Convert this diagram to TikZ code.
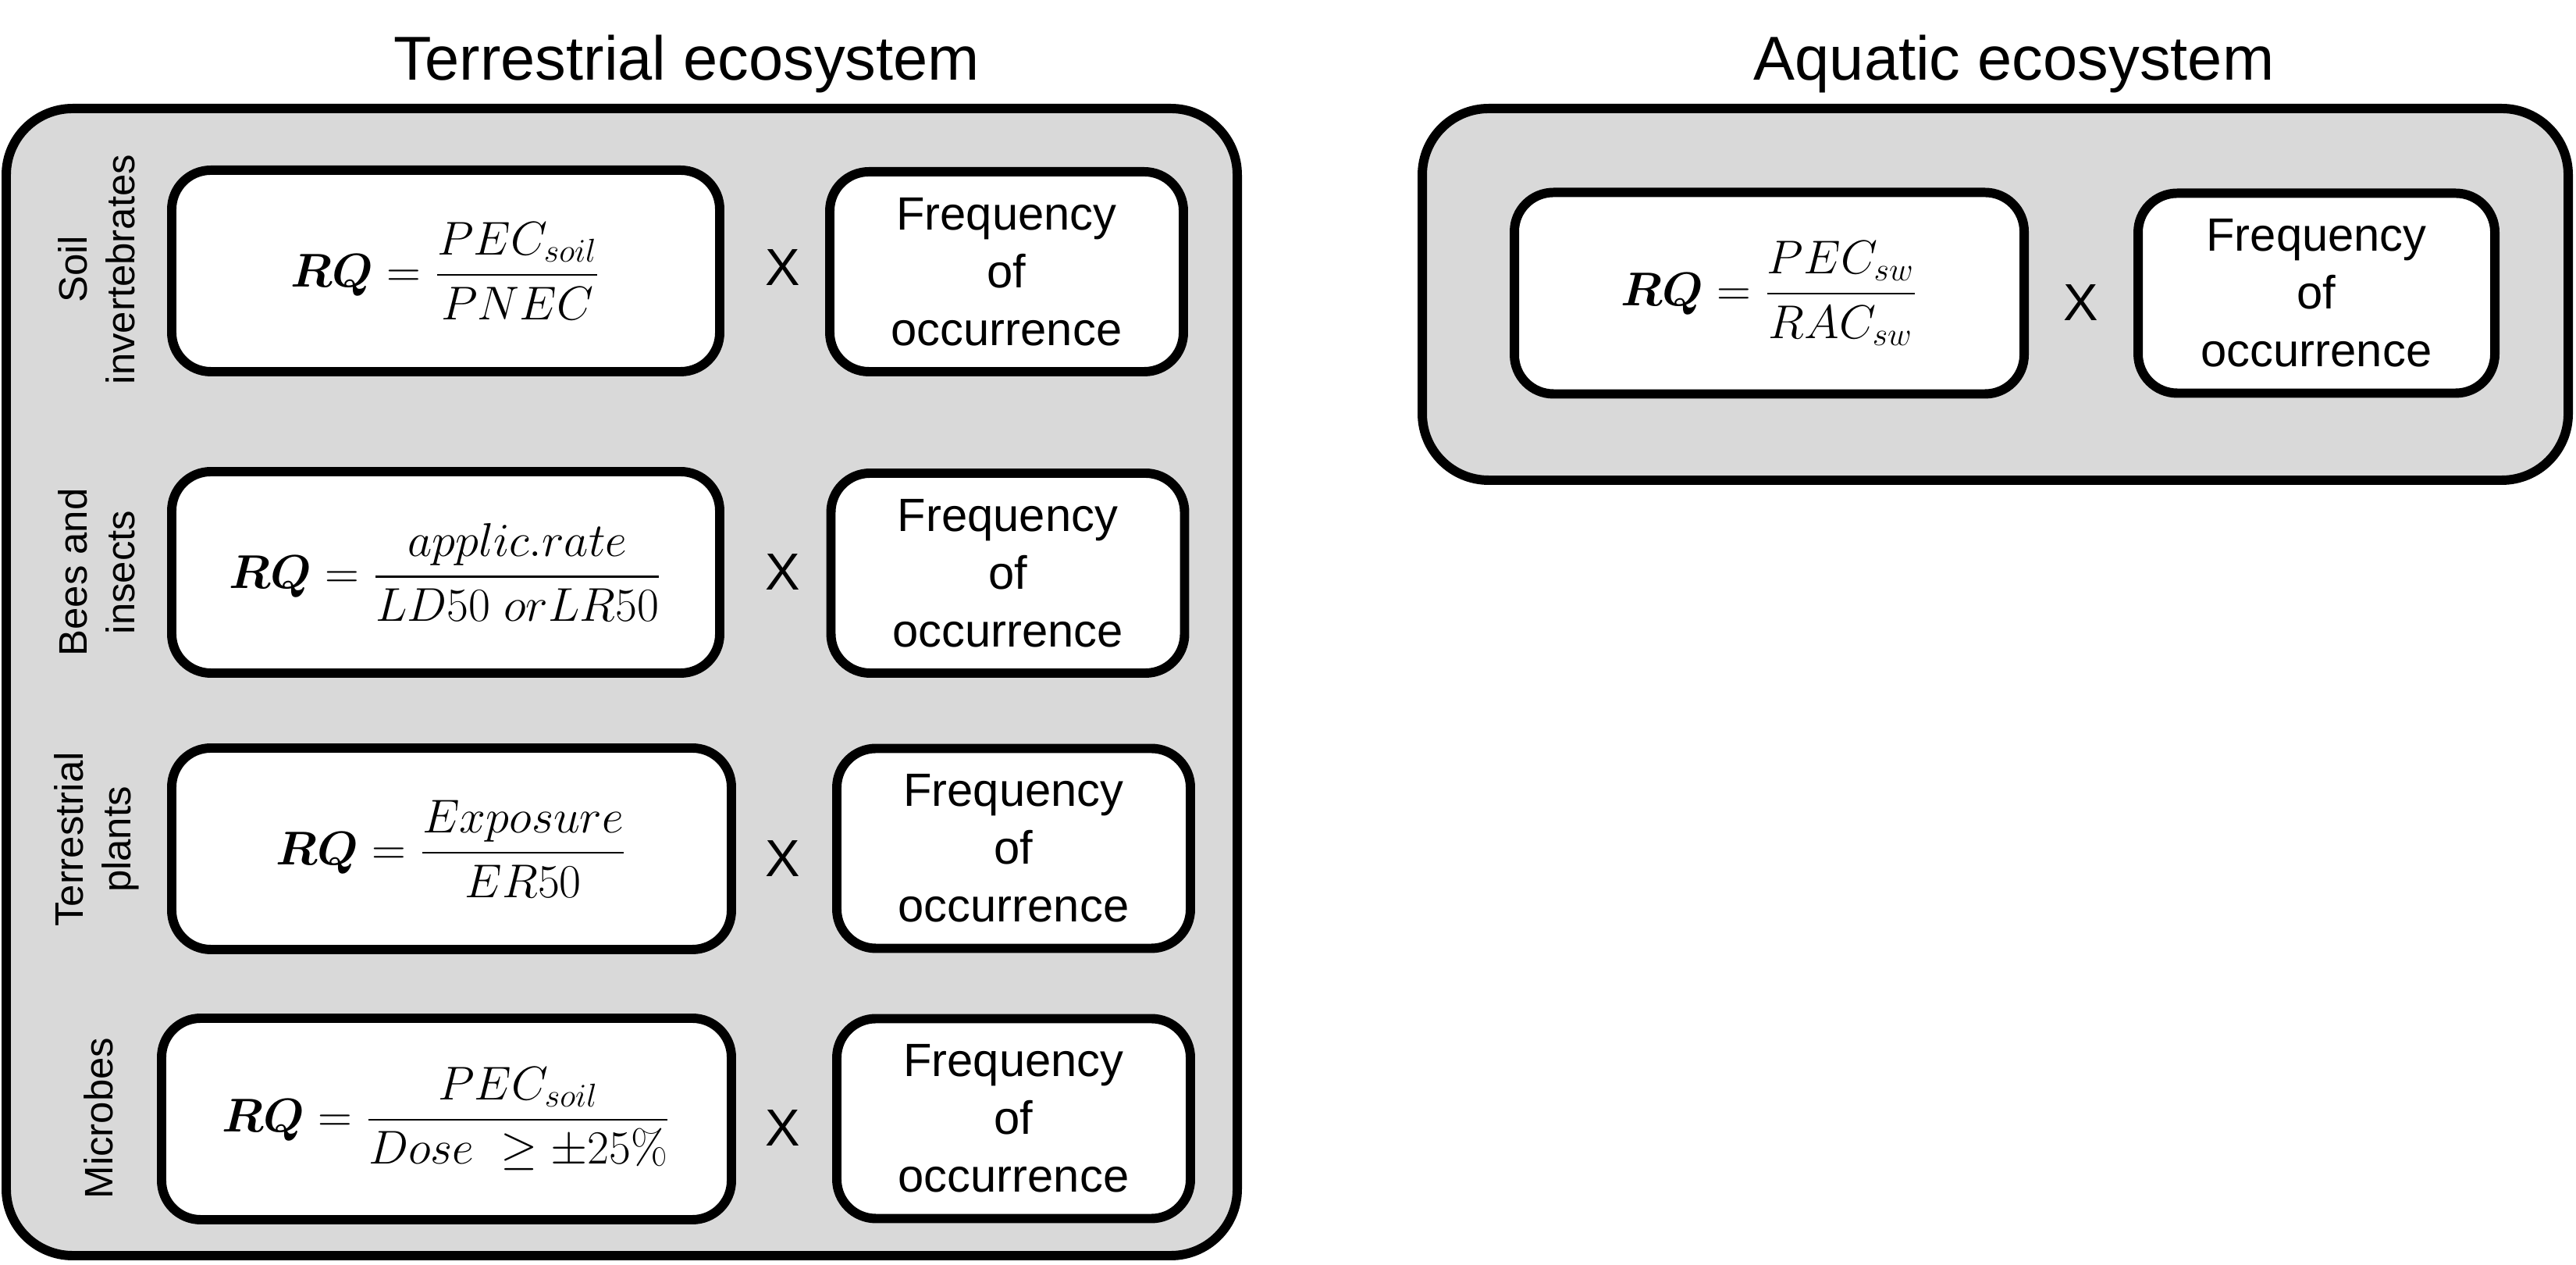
\documentclass[tikz,border=0pt]{standalone}
\usepackage[no-math]{fontspec}
\setmainfont{Liberation Sans}
\usepackage{amsmath}

\definecolor{panelgray}{HTML}{D9D9D9}

\tikzset{
	panel/.style={draw, fill=panelgray, line width=3.4pt, rounded corners=0.85cm},
	eqbox/.style={draw, fill=white, line width=3.4pt, rounded corners=0.5cm, minimum height=2.58cm, font=\fontsize{17.28}{21}\selectfont},
	freqbox/.style={draw, fill=white, line width=3.4pt, rounded corners=0.5cm, minimum width=4.53cm, minimum height=2.56cm, align=center, font=\fontsize{17}{21}\selectfont},
	timesmark/.style={font=\fontsize{19}{19}\selectfont},
	grouplabel/.style={rotate=90, align=center, font=\fontsize{14.5}{17.5}\selectfont},
	paneltitle/.style={anchor=base, font=\fontsize{22.6}{27}\selectfont}
}

\begin{document}
\begin{tikzpicture}
		\useasboundingbox (0,0) rectangle (33,16.2);

		\draw[panel] (0.08,0.12) rectangle (15.85,14.81);
		\draw[panel] (18.22,10.05) rectangle (32.90,14.81);

		\node[paneltitle] (terrtitle) at (8.80,15.17) {Terrestrial ecosystem};
		\node[paneltitle] (aquatitle) at (25.80,15.17) {Aquatic ecosystem};

		\node[grouplabel] (soillab) at (1.24,12.75) {Soil\\invertebrates};
		\node[grouplabel] (beeslab) at (1.24,8.87) {Bees and\\insects};
		\node[grouplabel] (plantlab) at (1.24,5.45) {Terrestrial\\plants};
		\node[grouplabel] (microlab) at (1.26,1.88) {Microbes};

		\node[eqbox, minimum width=7.02cm] (soileq) at (5.71,12.73) {$\boldsymbol{RQ}=\dfrac{PEC_{soil}}{PNEC}$};
		\node[eqbox, minimum width=7.02cm] (beeseq) at (5.71,8.87) {$\boldsymbol{RQ}=\dfrac{applic.rate}{LD50\ orLR50}$};
		\node[eqbox, minimum width=7.17cm] (planteq) at (5.785,5.33) {$\boldsymbol{RQ}=\dfrac{Exposure}{ER50}$};
		\node[eqbox, minimum width=7.30cm] (microeq) at (5.72,1.87) {$\boldsymbol{RQ}=\dfrac{PEC_{soil}}{Dose\ \geq\pm25\%}$};

		\node[timesmark] (soilx) at (10.03,12.77) {X};
		\node[timesmark] (beesx) at (10.03,8.87) {X};
		\node[timesmark] (plantx) at (10.03,5.20) {X};
		\node[timesmark] (microx) at (10.03,1.75) {X};

		\node[freqbox] (soilfreq) at (12.895,12.72) {Frequency\\of\\occurrence};
		\node[freqbox] (beesfreq) at (12.91,8.86) {Frequency\\of\\occurrence};
		\node[freqbox] (plantfreq) at (12.985,5.335) {Frequency\\of\\occurrence};
		\node[freqbox] (microfreq) at (12.985,1.875) {Frequency\\of\\occurrence};

		\node[eqbox, minimum width=6.53cm] (sweq) at (22.665,12.445) {$\boldsymbol{RQ}=\dfrac{PEC_{sw}}{RAC_{sw}}$};
		\node[timesmark] (swx) at (26.66,12.32) {X};
		\node[freqbox, minimum width=4.57cm] (swfreq) at (29.675,12.445) {Frequency\\of\\occurrence};
	\end{tikzpicture}
\end{document}
